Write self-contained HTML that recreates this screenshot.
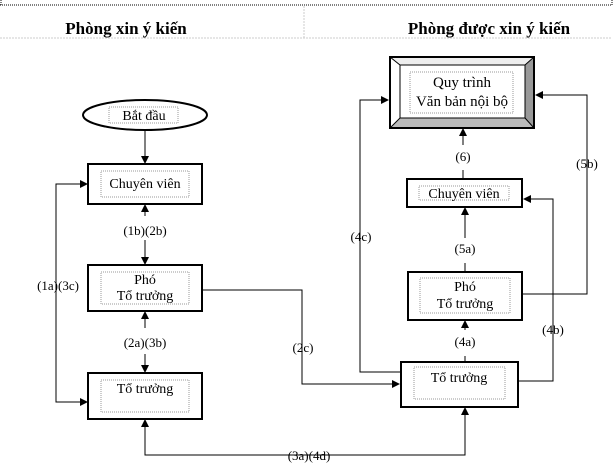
<!DOCTYPE html>
<html><head><meta charset="utf-8"><style>
html,body{margin:0;padding:0;background:#fff;}
svg{display:block;}
text{font-family:"Liberation Serif",serif;fill:#000;}
</style></head><body>
<svg width="615" height="470" viewBox="0 0 615 470" xmlns="http://www.w3.org/2000/svg">
<defs>
<marker id="a" markerWidth="8" markerHeight="8" refX="7" refY="4" orient="auto" markerUnits="userSpaceOnUse">
<path d="M0,0 L8,4 L0,8 z" fill="#000"/></marker>
</defs>
<line x1="0" y1="5" x2="612" y2="5" stroke="#000" stroke-width="1" stroke-dasharray="1,1"/>
<line x1="1" y1="0" x2="1" y2="5" stroke="#000" stroke-dasharray="1,1"/>
<line x1="612" y1="0" x2="612" y2="5" stroke="#000" stroke-dasharray="1,1"/>
<line x1="304" y1="6" x2="304" y2="38" stroke="#ccc" stroke-dasharray="2,1"/>
<line x1="0" y1="38" x2="612" y2="38" stroke="#ccc" stroke-dasharray="2,1"/>
<text x="126" y="34" font-size="17" font-weight="bold" text-anchor="middle">Phòng xin ý kiến</text>
<text x="489" y="34" font-size="17" font-weight="bold" text-anchor="middle">Phòng được xin ý kiến</text>

<g fill="none" stroke="#000" stroke-width="1">
<line x1="145" y1="130" x2="145" y2="163" marker-end="url(#a)"/>
<line x1="145" y1="216" x2="145" y2="205" marker-end="url(#a)"/>
<line x1="145" y1="240" x2="145" y2="264" marker-end="url(#a)"/>
<line x1="145" y1="328" x2="145" y2="312" marker-end="url(#a)"/>
<line x1="145" y1="354" x2="145" y2="372" marker-end="url(#a)"/>
<polyline points="87,184 56,184 56,402 87,402"/>
<line x1="80" y1="184" x2="87" y2="184" marker-end="url(#a)"/>
<line x1="80" y1="402" x2="87" y2="402" marker-end="url(#a)"/>
<polyline points="202,290 302,290 302,384 399,384" marker-end="url(#a)"/>
<polyline points="145,421 145,455 465,455 465,409"/>
<line x1="145" y1="432" x2="145" y2="420" marker-end="url(#a)"/>
<line x1="465" y1="420" x2="465" y2="408" marker-end="url(#a)"/>
<polyline points="401,372 360,372 360,100 388,100" marker-end="url(#a)"/>
<polyline points="518,381 553,381 553,199 524,199" marker-end="url(#a)"/>
<polyline points="522,294 587,294 587,95 536,95" marker-end="url(#a)"/>
<line x1="465" y1="362" x2="465" y2="356"/>
<line x1="465" y1="330" x2="465" y2="321" marker-end="url(#a)"/>
<line x1="465" y1="272" x2="465" y2="263"/>
<line x1="465" y1="238" x2="465" y2="208" marker-end="url(#a)"/>
<line x1="463" y1="179" x2="463" y2="170"/>
<line x1="463" y1="145" x2="463" y2="129" marker-end="url(#a)"/>
</g>

<ellipse cx="145" cy="115" rx="62" ry="15" fill="#fff" stroke="#000" stroke-width="2"/>
<rect x="109" y="107" width="69" height="16" fill="none" stroke="#999" stroke-dasharray="1,1"/>
<text x="144" y="120" font-size="14" text-anchor="middle">Bắt đầu</text>

<g fill="#fff" stroke="#000" stroke-width="2">
<rect x="88" y="164" width="114" height="40"/>
<rect x="88" y="265" width="114" height="46"/>
<rect x="88" y="373" width="114" height="46"/>
<rect x="401" y="362" width="117" height="45"/>
<rect x="408" y="272" width="114" height="48"/>
<rect x="407" y="179" width="115" height="28"/>
</g>
<g fill="none" stroke="#999" stroke-width="1" stroke-dasharray="1,1">
<rect x="101" y="171" width="88" height="26"/>
<rect x="101" y="272" width="88" height="32"/>
<rect x="101" y="380" width="88" height="32"/>
<rect x="414" y="367" width="91" height="32"/>
<rect x="420" y="278" width="90" height="35"/>
<rect x="419" y="186" width="90" height="14"/>
</g>
<text x="145" y="188" font-size="14" text-anchor="middle">Chuyên viên</text>
<text x="145" y="284" font-size="14" text-anchor="middle">Phó</text>
<text x="145" y="300" font-size="14" text-anchor="middle">Tổ trưởng</text>
<text x="145" y="393" font-size="14" text-anchor="middle">Tổ trưởng</text>
<text x="459" y="382" font-size="14" text-anchor="middle">Tổ trưởng</text>
<text x="465" y="291" font-size="14" text-anchor="middle">Phó</text>
<text x="465" y="308" font-size="14" text-anchor="middle">Tổ trưởng</text>
<text x="464" y="198" font-size="14" text-anchor="middle">Chuyên viên</text>

<rect x="390" y="57" width="144" height="71" fill="#fff" stroke="#000" stroke-width="2"/>
<polygon points="525,65 534,57 534,128 525,118" fill="#999"/>
<polygon points="400,118 525,118 534,128 390,128" fill="#bbb"/>
<polygon points="390,57 534,57 525,65 400,65" fill="#eee"/>
<rect x="390" y="57" width="144" height="71" fill="none" stroke="#000" stroke-width="2"/>
<rect x="400" y="65" width="125" height="53" fill="#fff" stroke="#000" stroke-width="1"/>
<g stroke="#000" stroke-width="1"><line x1="390" y1="57" x2="400" y2="65"/><line x1="534" y1="57" x2="525" y2="65"/><line x1="390" y1="128" x2="400" y2="118"/><line x1="534" y1="128" x2="525" y2="118"/></g>
<rect x="410" y="72" width="103" height="41" fill="none" stroke="#999" stroke-dasharray="1,1"/>
<text x="462" y="87" font-size="15" text-anchor="middle">Quy trình</text>
<text x="462" y="106" font-size="15" text-anchor="middle">Văn bản nội bộ</text>

<g font-size="13" text-anchor="middle">
<text x="145" y="235">(1b)(2b)</text>
<text x="145" y="347">(2a)(3b)</text>
<text x="58" y="290">(1a)(3c)</text>
<text x="303" y="352">(2c)</text>
<text x="309" y="460">(3a)(4d)</text>
<text x="361" y="241">(4c)</text>
<text x="463" y="161">(6)</text>
<text x="465" y="253">(5a)</text>
<text x="465" y="346">(4a)</text>
<text x="553" y="334">(4b)</text>
<text x="587" y="168">(5b)</text>
</g>
</svg>
</body></html>
